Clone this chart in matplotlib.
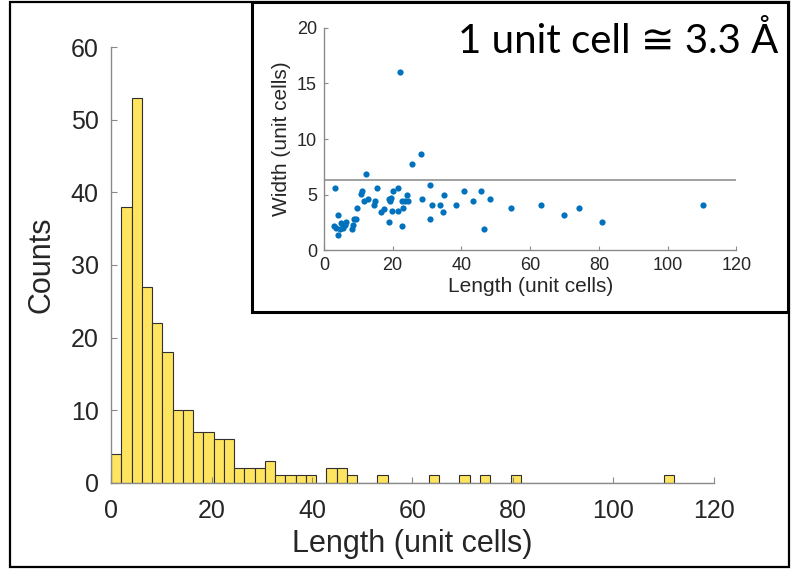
import matplotlib
matplotlib.use("Agg")
import matplotlib.pyplot as plt
from matplotlib.patches import Rectangle
import numpy as np

# histogram of lengths (unit cells), bins of equal width starting at 0
BIN_START = 0.0
BIN_WIDTH = 2.04
COUNTS = [4, 38, 53, 27, 22, 18, 10, 10, 7, 7, 6, 6, 2, 2, 2, 3, 1, 1, 1, 1,
          0, 2, 2, 1, 0, 0, 1, 0, 0, 0, 0, 1, 0, 0, 1, 0, 1, 0, 0, 1,
          0, 0, 0, 0, 0, 0, 0, 0, 0, 0, 0, 0, 0, 0, 1]

# inset: length vs width of each object
LENGTH = [3.1, 2.9, 4.0, 4.1, 3.6, 4.8, 5.1, 5.6, 6.1, 6.3, 8.3, 8.6, 8.8, 9.4,
          9.6, 10.8, 11.2, 11.6, 12.25, 12.8, 14.6, 14.8, 15.4, 16.6, 17.4,
          18.9, 18.9, 19.3, 19.5, 19.7, 20.1, 21.5, 21.6, 22.0, 22.8, 23.1,
          22.8, 23.6, 24.1, 24.4, 25.7, 28.1, 28.4, 30.8, 30.8, 31.5, 33.9,
          34.6, 34.8, 38.5, 40.7, 43.5, 45.8, 46.5, 48.2, 54.3, 63.2, 69.8,
          74.2, 80.8, 110.4]
WIDTH = [5.65, 2.2, 3.2, 1.35, 2.0, 1.9, 2.45, 2.0, 2.25, 2.55, 1.95, 2.3, 2.85,
         2.85, 3.8, 5.1, 5.3, 4.4, 6.85, 4.65, 4.1, 4.4, 5.6, 3.45, 3.75,
         2.55, 4.6, 4.4, 4.7, 3.5, 5.3, 5.6, 3.5, 16.0, 2.2, 3.8,
         4.4, 4.4, 5.0, 4.4, 7.75, 8.65, 4.65, 5.9, 2.85, 4.1, 4.1,
         3.45, 5.0, 4.1, 5.3, 4.4, 5.3, 1.95, 4.65, 3.8, 4.1, 3.2,
         3.8, 2.55, 4.1]
WIDTH_LIMIT = 6.35

BAR_COLOR = "#ffe460"
DOT_COLOR = "#0072bd"
AX_COLOR = "#8a8a8a"
TXT_COLOR = "#262626"


def style_axes(ax, tick_size, label_size):
    for side in ("top", "right"):
        ax.spines[side].set_visible(False)
    for side in ("left", "bottom"):
        ax.spines[side].set_color(AX_COLOR)
        ax.spines[side].set_linewidth(1.0)
    ax.tick_params(direction="in", length=4, width=0.8, color=AX_COLOR,
                   labelsize=tick_size, labelcolor=TXT_COLOR)
    ax.xaxis.label.set_size(label_size)
    ax.yaxis.label.set_size(label_size)
    ax.xaxis.label.set_color(TXT_COLOR)
    ax.yaxis.label.set_color(TXT_COLOR)


plt.rcParams["font.family"] = ["Liberation Sans", "DejaVu Sans"]

fig = plt.figure(figsize=(7.91, 5.69), dpi=100)

# outer slide frame
outer = Rectangle((10 / 791, 2 / 569), 779 / 791, 565 / 569,
                  transform=fig.transFigure, facecolor="none",
                  edgecolor="black", linewidth=1.6, zorder=0)
fig.patches.append(outer)

# main histogram
ax = fig.add_axes([0.1406, 0.1517, 0.7616, 0.7652])
edges = BIN_START + BIN_WIDTH * np.arange(len(COUNTS) + 1)
ax.bar(edges[:-1], COUNTS, width=BIN_WIDTH, align="edge", color=BAR_COLOR,
       edgecolor="#303030", linewidth=0.8)
ax.set_xlim(0, 120)
ax.set_ylim(0, 60)
ax.set_xticks(np.arange(0, 121, 20))
ax.set_yticks(np.arange(0, 61, 10))
ax.set_xlabel("Length (unit cells)", labelpad=4)
ax.set_ylabel("Counts", labelpad=10)
style_axes(ax, 18, 22)
ax.tick_params(axis="x", pad=12)
ax.tick_params(axis="y", pad=9)

# white framed box behind the inset
frame = Rectangle((0.3186, 0.4517), 0.6776, 0.5448, transform=fig.transFigure,
                  facecolor="white", edgecolor="black", linewidth=2.2, zorder=1)
fig.patches.append(frame)

# inset scatter
ax2 = fig.add_axes([0.4095, 0.5598, 0.5215, 0.3916])
ax2.set_zorder(3)
ax2.patch.set_alpha(0)
ax2.scatter(LENGTH, WIDTH, s=20, color=DOT_COLOR, linewidths=0, zorder=3)
ax2.axhline(WIDTH_LIMIT, color="#9a9a9a", linewidth=1.3, zorder=2)
ax2.set_xlim(0, 120)
ax2.set_ylim(0, 20)
ax2.set_xticks(np.arange(0, 121, 20))
ax2.set_yticks(np.arange(0, 21, 5))
ax2.set_xlabel("Length (unit cells)", labelpad=2)
ax2.set_ylabel("Width (unit cells)", labelpad=4)
style_axes(ax2, 13, 15)
ax2.tick_params(direction="in", length=3, pad=5)

fig.text(778 / 791, 1 - 53.3 / 569, "1 unit cell \u2245 3.3 \u00c5", ha="right",
         va="baseline", fontsize=29, family=["Lato", "DejaVu Sans"],
         color="black", zorder=5)

fig.savefig("out.png", dpi=100)
